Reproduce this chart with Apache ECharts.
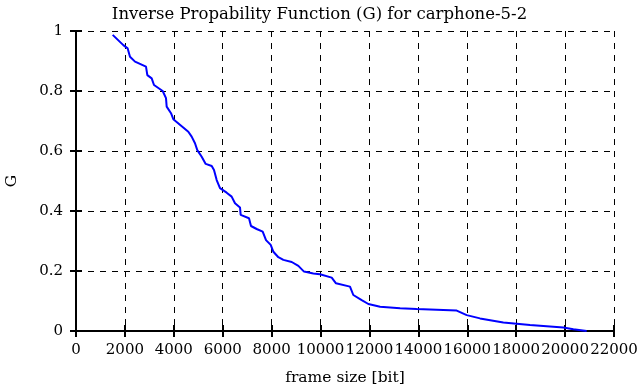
<!DOCTYPE html>
<html>
<head>
<meta charset="utf-8">
<script src="https://cdn.jsdelivr.net/npm/echarts@6/dist/echarts.min.js"></script>
<style>html,body{margin:0;padding:0;background:#fff}#c{width:639px;height:387px}</style>
</head>
<body>
<div id="c"></div>
<script>
var frameSize = [1500,1935,2113,2208,2413,2862,2917,3095,3190,3545,3680,3708,3885,3980,4593,4730,4866,4960,5140,5304,5550,5643,5753,5888,6161,6365,6502,6706,6734,7074,7156,7388,7634,7770,7962,8071,8275,8480,8822,9093,9323,9706,9978,10456,10632,11204,11340,11683,11956,12435,13253,13932,15568,15977,16521,17474,18566,19928,20337,20882];
var gValues = [0.987,0.953,0.942,0.914,0.898,0.881,0.853,0.842,0.82,0.80,0.776,0.748,0.726,0.706,0.664,0.648,0.626,0.603,0.581,0.557,0.55,0.537,0.503,0.476,0.461,0.448,0.426,0.412,0.387,0.376,0.35,0.34,0.331,0.303,0.287,0.264,0.246,0.237,0.23,0.217,0.198,0.192,0.189,0.178,0.159,0.148,0.12,0.103,0.09,0.081,0.076,0.073,0.068,0.053,0.042,0.028,0.02,0.012,0.006,0];
var titleText = 'Inverse Propability Function (G) for carphone-5-2';
var xName = 'frame size [bit]';
var yName = 'G';

var data = frameSize.map(function(x,i){return [x,gValues[i]];});
var font = '"DejaVu Serif","Liberation Serif",serif';
var chart = echarts.init(document.getElementById('c'), null, {renderer:'canvas'});
var lineStyleAxis = {color:'#000', width:2};
var tickStyle = {show:true,inside:true,length:6,lineStyle:{color:'#000',width:2}};
chart.setOption({
  animation:false,
  backgroundColor:'#fff',
  title:{text:titleText,left:'center',top:1,textStyle:{fontFamily:font,fontWeight:'normal',fontSize:16.5,color:'#000'}},
  grid:{left:76,right:25,top:31,bottom:56,containLabel:false,outerBoundsMode:'none'},
  xAxis:[{
    type:'value',min:0,max:22000,interval:2000,
    name:xName,nameLocation:'middle',nameGap:39,
    nameTextStyle:{fontFamily:font,fontSize:15.5,color:'#000'},
    axisLine:{show:true,onZero:false,lineStyle:lineStyleAxis},
    axisTick:tickStyle,
    axisLabel:{fontFamily:font,fontSize:15,color:'#000',margin:12,hideOverlap:false,formatter:function(v){return String(v);}},
    splitLine:{show:true,lineStyle:{color:'#000',type:[6,6],width:1}}
  },{
    type:'value',min:0,max:22000,interval:2000,position:'top',
    axisLine:{show:true,lineStyle:lineStyleAxis},
    axisTick:tickStyle,
    axisLabel:{show:false},splitLine:{show:false}
  }],
  yAxis:[{
    type:'value',min:0,max:1,interval:0.2,
    name:yName,nameLocation:'middle',nameGap:56,nameRotate:90,
    nameTextStyle:{fontFamily:font,fontSize:15.5,color:'#000'},
    axisLine:{show:true,onZero:false,lineStyle:lineStyleAxis},
    axisTick:tickStyle,
    axisLabel:{fontFamily:font,fontSize:15,color:'#000',margin:13},
    splitLine:{show:true,lineStyle:{color:'#000',type:[6,6],width:1}}
  },{
    type:'value',min:0,max:1,interval:0.2,position:'right',
    axisLine:{show:true,lineStyle:lineStyleAxis},
    axisTick:tickStyle,
    axisLabel:{show:false},splitLine:{show:false}
  }],
  series:[{
    type:'line',data:data,showSymbol:false,symbol:'none',
    lineStyle:{color:'#0000ff',width:2},
    xAxisIndex:0,yAxisIndex:0
  }]
});
</script>
</body>
</html>
